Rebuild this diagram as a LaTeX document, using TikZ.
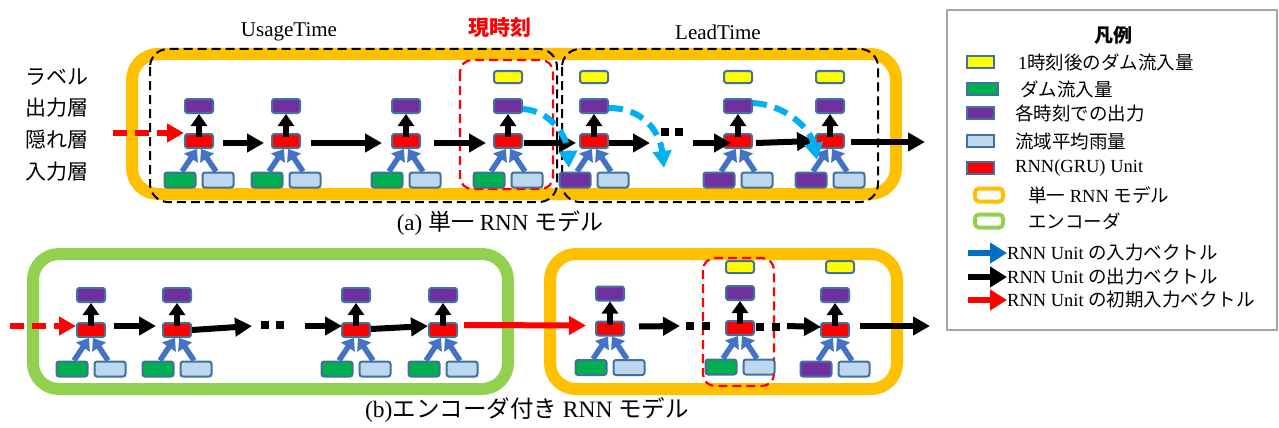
\documentclass[tikz,border=0pt]{standalone}
\usepackage{fontspec}
\setmainfont{Liberation Serif}
\newfontfamily\jp{Noto Sans CJK JP}
\usetikzlibrary{arrows.meta}

\definecolor{unitedge}{HTML}{41719C}
\definecolor{outpurple}{HTML}{7030A0}
\definecolor{damgreen}{HTML}{00B050}
\definecolor{rainblue}{HTML}{BDD7EE}
\definecolor{labelyellow}{HTML}{FFFF00}
\definecolor{modelorange}{HTML}{FFC000}
\definecolor{encgreen}{HTML}{92D050}
\definecolor{inarrow}{HTML}{4472C4}
\definecolor{feedcyan}{HTML}{00B0F0}
\definecolor{legendblue}{HTML}{0070C0}
\definecolor{legendgray}{HTML}{A6A6A6}

% one RNN cell: #1 name prefix, #2 x, #3 y of the hidden unit, #4 fill of the left input
\newcommand\rnncell[4]{%
  \node[hidbox] (#1h) at (#2,#3) {};
  \node[outbox] (#1o) at (#2,#3-35) {};
  \node[inbox, fill=#4] (#1l) at (#2-19,#3+39) {};
  \node[inbox, fill=rainblue] (#1r) at (#2+19,#3+39) {};
  \draw[inarr] ([xshift=2pt]#1l.north) -- ([xshift=-2pt]#1h.south);
  \draw[inarr] ([xshift=-2pt]#1r.north) -- ([xshift=2pt]#1h.south);
  \draw[uparr] ([yshift=-4pt]#1h.north) -- (#1o.south);
}

\tikzset{
  cellbox/.style={draw=unitedge, line width=2pt, rounded corners=2.5pt,
    minimum width=28pt, minimum height=14pt, inner sep=0pt},
  hidbox/.style={cellbox, fill=red},
  outbox/.style={cellbox, fill=outpurple},
  inbox/.style={cellbox, minimum width=31pt, minimum height=15pt},
  lblbox/.style={cellbox, fill=labelyellow, minimum height=12pt},
  inarr/.style={draw=inarrow, line width=5.5pt, -{Triangle[length=11pt,width=16pt]}},
  uparr/.style={draw=black, line width=5.5pt, -{Triangle[length=12pt,width=16pt]}},
  flow/.style={draw=black, line width=6pt, -{Triangle[length=17pt,width=18pt]}},
  initflow/.style={flow, draw=red},
  initdash/.style={initflow, dash pattern=on 14pt off 8pt},
  feedback/.style={draw=feedcyan, line width=6pt, dash pattern=on 14pt off 8pt,
    -{Triangle[length=17pt,width=18pt,fill=feedcyan]}},
  dotmark/.style={fill=black, minimum size=8pt, inner sep=0pt},
  modelframe/.style={draw=modelorange, line width=12pt, rounded corners=26pt},
  encframe/.style={draw=encgreen, line width=12pt, rounded corners=26pt},
  spanframe/.style={draw=black, line width=2pt, dash pattern=on 9pt off 5pt, rounded corners=18pt},
  nowframe/.style={draw=red, line width=2.2pt, dash pattern=on 9pt off 5pt, rounded corners=12pt},
  bigtext/.style={font=\fontsize{21}{25}\selectfont, inner sep=0pt},
  captext/.style={font=\fontsize{23}{27}\selectfont, inner sep=0pt},
  legtext/.style={font=\fontsize{18.5}{22}\selectfont, inner sep=0pt, anchor=west},
  legsw/.style={draw=unitedge, line width=1.2pt, minimum width=27pt, minimum height=12pt, inner sep=0pt},
  legring/.style={line width=4pt, rounded corners=4pt, minimum width=28pt, minimum height=13pt, inner sep=0pt},
  legarr/.style={line width=6pt, -{Triangle[length=17pt,width=20pt]}},
}

\begin{document}
\begin{tikzpicture}[x=1pt,y=-1pt]
\fill[white] (0,0) rectangle (1279,428);
\useasboundingbox (0,0) rectangle (1279,428);

% ---------- (a) single RNN model ----------
\draw[modelframe] (132,54) rectangle (896,194);
\draw[spanframe] (150,49) rectangle (557,202);
\draw[spanframe] (562,49) rectangle (878,202);
\draw[nowframe] (460,60) rectangle (553,189);

\node[bigtext] (usage) at (289,32) {UsageTime};
\node[bigtext] (lead) at (718,32) {LeadTime};
\node[bigtext, text=red] (now) at (500,28) {\jp\bfseries 現時刻};

\node[bigtext, anchor=west] (rowlbl) at (25,77) {\jp ラベル};
\node[bigtext, anchor=west] (rowout) at (25,108) {\jp 出力層};
\node[bigtext, anchor=west] (rowhid) at (25,140) {\jp 隠れ層};
\node[bigtext, anchor=west] (rowin) at (25,172) {\jp 入力層};

\rnncell{u1}{199}{141}{damgreen}
\rnncell{u2}{286}{141}{damgreen}
\rnncell{u3}{406}{141}{damgreen}
\rnncell{u4}{508}{141}{damgreen}
\rnncell{u5}{594}{141}{outpurple}
\rnncell{u6}{738}{141}{outpurple}
\rnncell{u7}{830}{141}{outpurple}
\node[lblbox] (u4y) at (508,77) {};
\node[lblbox] (u5y) at (594,77) {};
\node[lblbox] (u6y) at (738,77) {};
\node[lblbox] (u7y) at (830,77) {};

\coordinate (initA) at (113,133);
\coordinate (gapA) at (650,143);
\coordinate (gapB) at (693,143);
\coordinate (outA) at (925,142);
\node[dotmark] (dA1) at (665,132) {};
\node[dotmark] (dA2) at (679,132) {};

\draw[initdash] (initA) -- ([yshift=8pt]u1h.west);
\draw[flow] ([xshift=9pt,yshift=-2pt]u1h.east) -- ([xshift=-7pt,yshift=-2pt]u2h.west);
\draw[flow] ([xshift=10pt,yshift=-2pt]u2h.east) -- ([xshift=-9pt,yshift=-2pt]u3h.west);
\draw[flow] ([xshift=13pt,yshift=-2pt]u3h.east) -- ([xshift=-7pt,yshift=-2pt]u4h.west);
\draw[flow] ([xshift=1pt,yshift=-2pt]u4h.east) -- ([xshift=-3pt,yshift=-2pt]u5h.west);
\draw[flow] ([yshift=-2pt]u5h.east) -- (gapA);
\draw[flow] (gapB) -- ([xshift=8pt,yshift=-2pt]u6h.west);
\draw[flow] ([xshift=3pt,yshift=-2pt]u6h.east) -- ([xshift=-1pt]u7h.west);
\draw[flow] ([xshift=6pt,yshift=-1pt]u7h.east) -- (outA);

\coordinate (fbA) at (569,168);
\coordinate (fbB) at (664,168);
\coordinate (fbC) at (817,160);
\draw[feedback] ([yshift=-3pt]u4o.east) .. controls +(28,2) and +(-2,-32) .. (fbA);
\draw[feedback] ([yshift=-2pt]u5o.east) .. controls +(34,0) and +(-4,-36) .. (fbB);
\draw[feedback] ([yshift=3pt]u6o.east) .. controls +(34,2) and +(-6,-30) .. (fbC);

\node[captext] (capA) at (500,223) {(a) {\jp 単一} RNN {\jp モデル}};

% ---------- (b) RNN model with encoder ----------
\draw[encframe] (33,254) rectangle (508,389);
\draw[modelframe] (550,254) rectangle (897,389);
\draw[nowframe] (703,258) rectangle (774,386);

\rnncell{b1}{91}{330}{damgreen}
\rnncell{b2}{177}{330}{damgreen}
\rnncell{b3}{356}{330}{damgreen}
\rnncell{b4}{443}{330}{damgreen}
\rnncell{c1}{610}{328.5}{damgreen}
\rnncell{c2}{740}{328}{damgreen}
\rnncell{c3}{835}{330}{outpurple}
\node[lblbox] (c2y) at (740,267) {};
\node[lblbox] (c3y) at (840,267) {};

\coordinate (initB) at (10,326);
\coordinate (gapC) at (252,326);
\coordinate (gapD) at (305,326);
\coordinate (gapE) at (680,326);
\coordinate (gapF) at (787,326);
\coordinate (outB) at (930,326);
\node[dotmark] (dB1) at (265,325) {};
\node[dotmark] (dB2) at (280,325) {};
\node[dotmark] (dC1) at (690,326) {};
\node[dotmark] (dC2) at (706,326) {};
\node[dotmark] (dC3) at (760,327) {};
\node[dotmark] (dC4) at (776,327) {};

\draw[initdash] (initB) -- ([yshift=4pt]b1h.west);
\draw[flow] ([xshift=8pt,yshift=4pt]b1h.east) -- ([xshift=-6pt,yshift=4pt]b2h.west);
\draw[flow] (b2h.east) -- (gapC);
\draw[flow] (gapD) -- ([xshift=1pt,yshift=4pt]b3h.west);
\draw[flow] ([yshift=1pt]b3h.east) -- ([yshift=4pt]b4h.west);
\draw[initflow] ([xshift=6pt,yshift=5pt]b4h.east) -- ([xshift=-9pt,yshift=3pt]c1h.west);
\draw[flow] ([xshift=14pt,yshift=2pt]c1h.east) -- (gapE);
\draw[flow] (gapF) -- ([xshift=1pt,yshift=3pt]c3h.west);
\draw[flow] ([xshift=10pt,yshift=4pt]c3h.east) -- (outB);

\node[captext, font=\fontsize{23.5}{27}\selectfont] (capB) at (527,410) {(b){\jp エンコーダ付き} RNN {\jp モデル}};

% ---------- legend ----------
\draw[legendgray, line width=1.5pt] (947,10) rectangle (1277,330);
\node[font=\fontsize{19}{22}\selectfont, inner sep=0pt] (legtitle) at (1113,35) {\jp\bfseries 凡例};

\node[legsw, fill=labelyellow] (swY) at (980.5,62) {};
\node[legsw, fill=damgreen, minimum width=31pt] (swG) at (982.5,89) {};
\node[legsw, fill=outpurple] (swP) at (980.5,113) {};
\node[legsw, fill=rainblue] (swB) at (980.5,141) {};
\node[legsw, fill=red] (swR) at (980.5,168) {};
\node[legring, draw=modelorange] (swO) at (989,195) {};
\node[legring, draw=encgreen] (swE) at (989,221) {};

\node[legtext] (ltY) at (1018,62) {1{\jp 時刻後のダム流入量}};
\node[legtext] (ltG) at (1020,89) {\jp ダム流入量};
\node[legtext] (ltP) at (1015,113) {\jp 各時刻での出力};
\node[legtext] (ltB) at (1015,141) {\jp 流域平均雨量};
\node[legtext] (ltR) at (1015,168) {RNN(GRU) Unit};
\node[legtext] (ltO) at (1028,195) {{\jp 単一} RNN {\jp モデル}};
\node[legtext] (ltE) at (1028,221) {\jp エンコーダ};

\coordinate (laB0) at (968,253);
\coordinate (laK0) at (968,277);
\coordinate (laR0) at (968,300);
\node[legtext] (ltIn) at (1007,253) {RNN Unit {\jp の入力ベクトル}};
\node[legtext] (ltOut) at (1007,277) {RNN Unit {\jp の出力ベクトル}};
\node[legtext] (ltInit) at (1007,300) {RNN Unit {\jp の初期入力ベクトル}};
\draw[legarr, draw=legendblue] (laB0) -- (ltIn.west);
\draw[legarr, draw=black] (laK0) -- (ltOut.west);
\draw[legarr, draw=red] (laR0) -- (ltInit.west);
\end{tikzpicture}
\end{document}
